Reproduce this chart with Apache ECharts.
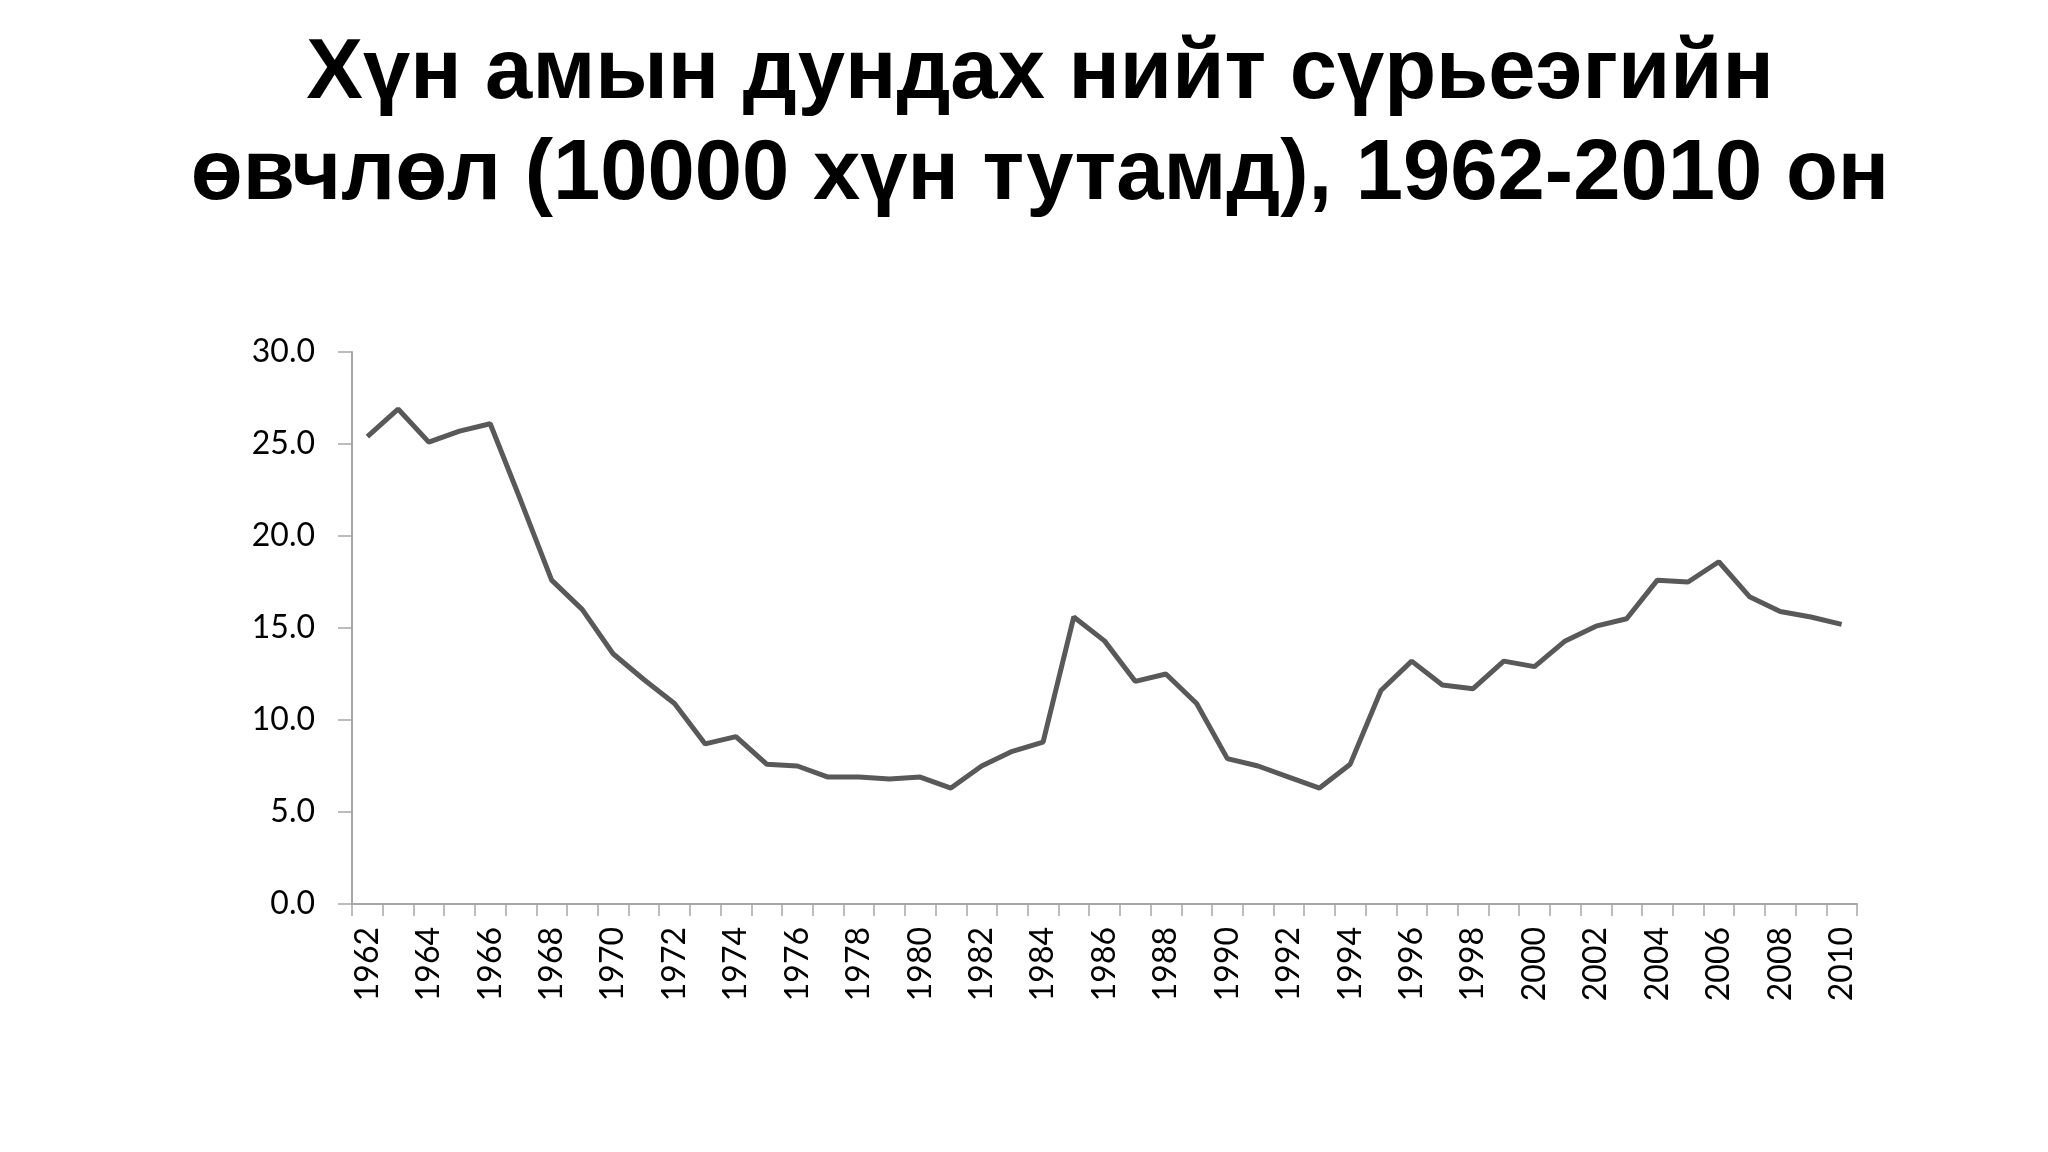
<!DOCTYPE html>
<html>
<head>
<meta charset="utf-8">
<script src="https://cdn.jsdelivr.net/npm/echarts@6/dist/echarts.min.js"></script>
<style>
html,body{margin:0;padding:0;background:#fff;}
#chart{width:2048px;height:1152px;}
</style>
</head>
<body>
<div id="chart"></div>
<script>
const titleLines = ["Хүн амын дундах нийт сүрьеэгийн", "өвчлөл (10000 хүн тутамд), 1962-2010 он"];
const years = [];
for (let y = 1962; y <= 2010; y++) years.push(String(y));
const values = [
  25.4, 26.9, 25.1, 25.7, 26.1, 21.9, 17.6, 16.0, 13.6, 12.2,
  10.9, 8.7, 9.1, 7.6, 7.5, 6.9, 6.9, 6.8, 6.9, 6.3,
  7.5, 8.3, 8.8, 15.6, 14.3, 12.1, 12.5, 10.9, 7.9, 7.5,
  6.9, 6.3, 7.6, 11.6, 13.2, 11.9, 11.7, 13.2, 12.9, 14.3,
  15.1, 15.5, 17.6, 17.5, 18.6, 16.7, 15.9, 15.6, 15.2
];
const yMin = 0, yMax = 30, yStep = 5;

const titleFont = 'bold 85px "Liberation Sans"';
const chart = echarts.init(document.getElementById('chart'));
chart.setOption({
  backgroundColor: '#ffffff',
  animation: false,
  graphic: titleLines.map((t, i) => ({
    type: 'text',
    x: 1040,
    y: 75 + i * 101,
    style: {
      text: t,
      font: titleFont,
      fill: '#000000',
      textAlign: 'center',
      textVerticalAlign: 'middle'
    }
  })),
  grid: { left: 352, right: 191, top: 352, bottom: 248 },
  xAxis: {
    type: 'category',
    data: years,
    boundaryGap: true,
    axisLine: { lineStyle: { color: '#a6a6a6', width: 2 } },
    axisTick: { show: true, length: 12, interval: 0, alignWithLabel: false, lineStyle: { color: '#a6a6a6', width: 1.5 } },
    axisLabel: {
      interval: 1,
      rotate: 90,
      margin: 23,
      fontFamily: 'Lato',
      fontSize: 32,
      color: '#000000'
    },
    splitLine: { show: false }
  },
  yAxis: {
    type: 'value',
    min: yMin, max: yMax, interval: yStep,
    axisLine: { show: true, lineStyle: { color: '#a6a6a6', width: 2 } },
    axisTick: { show: true, length: 14, lineStyle: { color: '#a6a6a6', width: 1.5 } },
    axisLabel: {
      margin: 37,
      fontFamily: 'Lato',
      fontSize: 32,
      color: '#000000',
      formatter: v => v.toFixed(1)
    },
    splitLine: { show: false }
  },
  series: [{
    type: 'line',
    data: values,
    symbol: 'none',
    lineStyle: { color: '#595959', width: 5 },
    itemStyle: { color: '#595959' }
  }]
});
</script>
</body>
</html>
